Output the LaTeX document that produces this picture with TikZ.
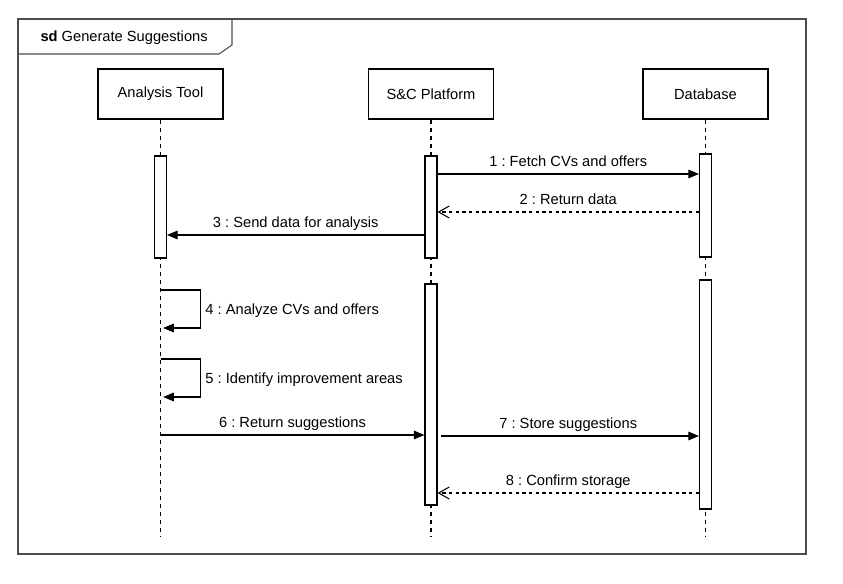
\documentclass[tikz,border=0pt]{standalone}
\usepackage{fontspec}
\setmainfont{Liberation Sans}
\usepackage{tikz}
\usetikzlibrary{arrows.meta}
\definecolor{framegray}{RGB}{77,77,77}
\frenchspacing

\begin{document}
\begin{tikzpicture}[x=0.75pt, y=-0.75pt, line width=0.8pt,
    every node/.style={font=\fontsize{11}{13}\selectfont},
    head/.style={draw, fill=white, minimum width=93.75pt, minimum height=37.5pt, inner sep=0pt},
    act/.style={draw, fill=white, minimum width=9pt, inner sep=0pt},
    life/.style={dash pattern=on 3pt off 3pt},
    msg/.style={-{Triangle[length=8pt,width=6.5pt]}},
    ret/.style={dash pattern=on 2.5pt off 2.5pt, -{Straight Barb[length=8pt,width=9pt]}},
    lbl/.style={anchor=base, yshift=5.25pt},
    selflbl/.style={anchor=base west, yshift=-4pt}]
    \useasboundingbox (0,0) rectangle (843,584);

    % frame
    \draw [framegray] (18,19) rectangle (806,554);
    \draw [framegray] (18,54) -- (219,54) -- (232,45) -- (232,19);
    \node [anchor=base west, inner sep=0pt] (title) at (40,41.7) {\textbf{sd} Generate Suggestions};

    % lifelines
    \node [head] (at) at (160.5,94) {\raisebox{-1pt}{Analysis Tool}};
    \node [head] (sc) at (431,94) {\raisebox{-1pt}{S\&C Platform}};
    \node [head] (db) at (705.5,94) {\raisebox{-1pt}{Database}};
    \foreach \n in {at,sc,db}
        \draw [life] (\n.south) -- (\n.south |- 0,537);

    % activations
    \node [act, minimum height=76.5pt] (at1) at (at |- 0,207) {};
    \node [act, minimum height=76.5pt] (sc1) at (sc |- 0,207) {};
    \node [act, minimum height=77.25pt] (db1) at (db |- 0,205.5) {};
    \node [act, minimum height=165.75pt] (sc2) at (sc |- 0,394.5) {};
    \node [act, minimum height=171.75pt] (db2) at (db |- 0,394.5) {};

    % messages
    \draw [msg] (sc1.east |- 0,174) -- node[lbl] {1 : Fetch CVs and offers} (db1.west |- 0,174);
    \draw [ret] (db1.west |- 0,212) -- node[lbl] {2 : Return data} (sc1.east |- 0,212);
    \draw [msg] (sc1.west |- 0,235) -- node[lbl] {3 : Send data for analysis} (at1.east |- 0,235);
    \draw [msg, shorten >=2pt] (at |- 0,290) -- ++(40,0) -- node[selflbl] {4 : Analyze CVs and offers} ++(0,38) -- (at |- 0,328);
    \draw [msg, shorten >=2pt] (at |- 0,359) -- ++(40,0) -- node[selflbl] {5 : Identify improvement areas} ++(0,38) -- (at |- 0,397);
    \draw [msg] (at |- 0,435) -- node[lbl] {6 : Return suggestions} (sc2.west |- 0,435);
    \draw [msg, shorten <=2.25pt] (sc2.east |- 0,436) -- node[lbl] {7 : Store suggestions} (db2.west |- 0,436);
    \draw [ret] (db2.west |- 0,493) -- node[lbl] {8 : Confirm storage} (sc2.east |- 0,493);
\end{tikzpicture}
\end{document}
